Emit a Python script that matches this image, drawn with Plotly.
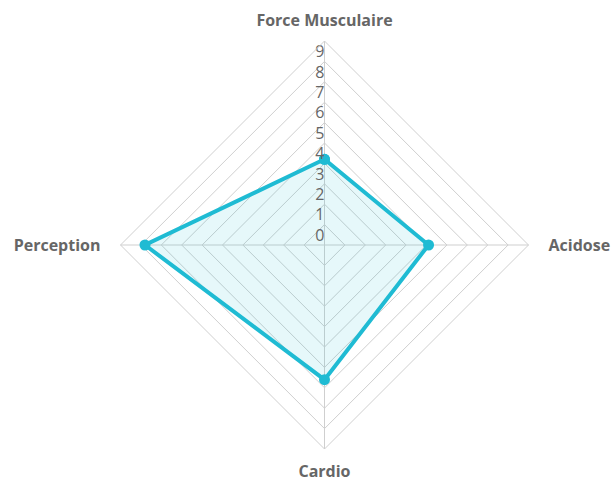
import plotly.graph_objects as go

categories = ["Force Musculaire", "Acidose", "Cardio", "Perception"]
values = [4.2, 5.1, 6.6, 8.8]
tick_values = [0, 1, 2, 3, 4, 5, 6, 7, 8, 9]
tick_labels = [str(v) for v in tick_values]

LINE = "#1fbbd3"
FILL = "rgba(31,187,211,0.11)"
GRID = "#cfcfcf"
TXT = "#666666"
FONT = "Open Sans, sans-serif"

W, H = 614, 478
CX, CY, R = 324.5, 245, 204

# horizontal padding for the side labels (left label padded right, right label padded left)
NB = "\u00a0\u00a0"
axis_text = [categories[0], NB + categories[1], categories[2], categories[3] + NB]

fig = go.Figure()
fig.add_trace(go.Scatterpolar(
    r=values + values[:1],
    theta=categories + categories[:1],
    mode="lines+markers",
    fill="toself",
    fillcolor=FILL,
    line=dict(color=LINE, width=4),
    marker=dict(color=LINE, size=11),
    hoverinfo="skip",
    showlegend=False,
))
# radial tick labels, drawn slightly above each ring as in the reference
fig.add_trace(go.Scatterpolar(
    r=[v + 0.4 for v in tick_values],
    theta=[categories[0]] * len(tick_values),
    mode="text",
    text=tick_labels,
    textposition="middle left",
    textfont=dict(family=FONT, size=16, color=TXT),
    hoverinfo="skip",
    showlegend=False,
))

fig.update_layout(
    width=W, height=H,
    margin=dict(l=0, r=0, t=0, b=0),
    paper_bgcolor="white",
    plot_bgcolor="white",
    showlegend=False,
    polar=dict(
        domain=dict(x=[(CX - R) / W, (CX + R) / W],
                    y=[(H - CY - R) / H, (H - CY + R) / H]),
        bgcolor="white",
        gridshape="linear",
        radialaxis=dict(
            range=[0, 10], dtick=1, tick0=0,
            showticklabels=False, ticks="",
            showline=False, gridcolor=GRID, gridwidth=1,
        ),
        angularaxis=dict(
            rotation=90, direction="clockwise",
            categoryorder="array", categoryarray=categories,
            tickmode="array", tickvals=categories, ticktext=axis_text,
            showline=True, linecolor=GRID, linewidth=1,
            gridcolor=GRID, gridwidth=1,
            ticks="outside", ticklen=8, tickcolor="rgba(0,0,0,0)",
            tickfont=dict(family=FONT, size=16, color=TXT, weight="bold"),
        ),
    ),
)

fig.write_html(
    "out.html",
    config={"displayModeBar": False},
    post_script="document.body.style.margin='0';document.body.style.overflow='hidden';",
)
